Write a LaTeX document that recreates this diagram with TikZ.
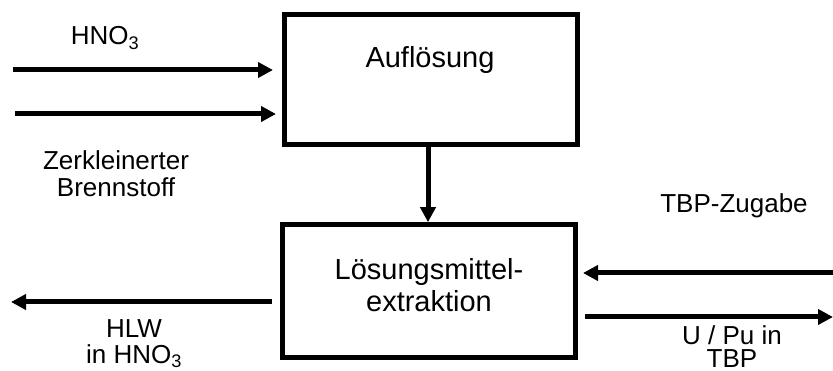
\documentclass[tikz,border=0pt]{standalone}
\usepackage{fontspec}
\setmainfont{Liberation Sans}
\usetikzlibrary{arrows.meta}
\begin{document}
\begin{tikzpicture}[x=1pt,y=-1pt,
  box/.style={draw,line width=5pt,rectangle,inner sep=0pt,minimum width=293pt},
  arr/.style={line width=5pt,-{Triangle[length=15pt,width=15pt]}},
  lbl/.style={font=\fontsize{26}{27}\selectfont,inner sep=0pt,anchor=base,align=center},
  boxtext/.style={font=\fontsize{29}{32}\selectfont,inner sep=0pt,anchor=base,align=center}]
\useasboundingbox (0,0) rectangle (833,371);
% boxes
\node[box,minimum height=129.5pt] (auf) at (431,79.75) {};
\node[box,minimum height=133.3pt] (lsg) at (429,291.35) {};
\node[boxtext] (auftext) at (430,68) {Auflösung};
\node[boxtext] (lsgtext) at (429,312) {Lösungsmittel-\\extraktion};
% free ends
\coordinate (hnoin) at (13,70);
\coordinate (brin) at (15,114);
\coordinate (v) at (428,0);
\coordinate (tbpin) at (833,273);
\coordinate (hlwout) at (11,302);
\coordinate (upuout) at (833,317);
% connectors
\draw[arr,shorten >=9pt] (hnoin) -- (hnoin -| auf.west);
\draw[arr,shorten >=6pt] (brin) -- (brin -| auf.west);
\draw[arr] (v |- auf.south) -- (v |- lsg.north);
\draw[arr,shorten >=5pt] (tbpin) -- (tbpin -| lsg.east);
\draw[arr,shorten <=8pt] (hlwout -| lsg.west) -- (hlwout);
\draw[arr,shorten <=7pt] (upuout -| lsg.east) -- (upuout);
% labels
\node[lbl] (lhno) at (105,45) {HNO\textsubscript{3}};
\node[lbl] (lbr) at (116,197) {Zerkleinerter\\Brennstoff};
\node[lbl] (ltbp) at (734,213) {TBP-Zugabe};
\node[lbl,font=\fontsize{26}{24}\selectfont] (lupu) at (732,368) {U / Pu in\\TBP};
\node[lbl,font=\fontsize{26}{26}\selectfont] (lhlw) at (134,363) {HLW\\in HNO\textsubscript{3}};
\end{tikzpicture}
\end{document}
